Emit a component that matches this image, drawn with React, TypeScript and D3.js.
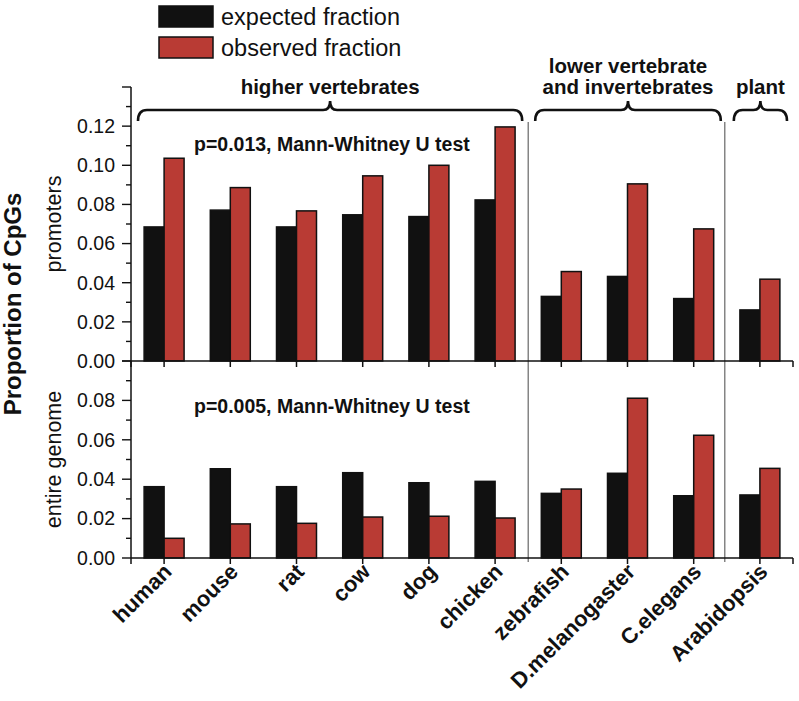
import React from "react";
import * as d3 from "d3";

const categories = ["human", "mouse", "rat", "cow", "dog", "chicken", "zebrafish", "D.melanogaster", "C.elegans", "Arabidopsis"];
const promotersExpected = [0.0685, 0.0771, 0.0685, 0.0747, 0.0738, 0.0823, 0.0330, 0.0432, 0.0319, 0.0261];
const promotersObserved = [0.1036, 0.0886, 0.0767, 0.0946, 0.1000, 0.1196, 0.0457, 0.0905, 0.0675, 0.0418];
const genomeExpected = [0.0362, 0.0453, 0.0362, 0.0433, 0.0382, 0.0389, 0.0328, 0.0430, 0.0316, 0.0320];
const genomeObserved = [0.0100, 0.0173, 0.0176, 0.0208, 0.0212, 0.0203, 0.0350, 0.0811, 0.0623, 0.0455];
const topTicks = [0, 0.02, 0.04, 0.06, 0.08, 0.1, 0.12];
const bottomTicks = [0, 0.02, 0.04, 0.06, 0.08];
const groups = [
  { lines: ["higher vertebrates"], first: 0, last: 5 },
  { lines: ["lower vertebrate", "and invertebrates"], first: 6, last: 8 },
  { lines: ["plant"], first: 9, last: 9 },
];
const seriesNames = ["expected fraction", "observed fraction"];
const pTexts = ["p=0.013, Mann-Whitney U test", "p=0.005, Mann-Whitney U test"];

const FONT = "'Liberation Sans', Arial, sans-serif";
const BLACK = "#111111";
const RED = "#b93b34";

export default function App() {
  const W = 799, H = 701;
  const x = d3.scaleBand<string>().domain(categories).range([131, 793]).padding(0);
  const bw = x.bandwidth();
  const barW = bw * 0.302;
  const yTop = d3.scaleLinear().domain([0, 0.14]).range([361, 87]);
  const yBot = d3.scaleLinear().domain([0, 0.1]).range([558, 361]);
  const cx = (c: string) => (x(c) as number) + bw / 2;

  const panels = [
    { y: yTop, exp: promotersExpected, obs: promotersObserved, ticks: topTicks, max: 0.14, label: "promoters", p: pTexts[0] },
    { y: yBot, exp: genomeExpected, obs: genomeObserved, ticks: bottomTicks, max: 0.1, label: "entire genome", p: pTexts[1] },
  ];

  const brace = (x0: number, x1: number, yb: number) => {
    const xm = (x0 + x1) / 2;
    return `M${x0},${yb + 11} Q${x0},${yb} ${x0 + 9},${yb} L${xm - 7},${yb} Q${xm},${yb} ${xm},${yb - 9} Q${xm},${yb} ${xm + 7},${yb} L${x1 - 9},${yb} Q${x1},${yb} ${x1},${yb + 11}`;
  };

  const sepXs = [x(categories[6]) as number, x(categories[9]) as number - 2];

  return (
    <svg width={W} height={H} style={{ position: "absolute", left: 0, top: 0, background: "#fff" }} fontFamily={FONT}>
      <rect x={0} y={0} width={W} height={H} fill="#fff" />
      {/* legend */}
      {seriesNames.map((s, i) => (
        <g key={s}>
          <rect x={159} y={6 + i * 31} width={54} height={21} fill={i === 0 ? BLACK : RED} stroke="#111" strokeWidth={1.5} />
          <text x={221} y={25 + i * 30.5} fontSize={23.5} fill="#111">{s}</text>
        </g>
      ))}
      {/* separators */}
      {sepXs.map((sx, i) => (
        <line key={i} x1={sx} x2={sx} y1={122} y2={562} stroke="#666" strokeWidth={1.2} />
      ))}
      {/* braces and group labels */}
      {groups.map((g) => {
        const x0 = (x(categories[g.first]) as number) + 7;
        const x1 = (x(categories[g.last]) as number) + bw - 6;
        const xm = (x0 + x1) / 2;
        return (
          <g key={g.lines.join()}>
            <path d={brace(x0, x1, 110)} fill="none" stroke="#111" strokeWidth={2.6} />
            {g.lines.map((l, j) => (
              <text key={l} x={xm} y={94 - (g.lines.length - 1 - j) * 21.5} textAnchor="middle" fontWeight="bold" fontSize={20.5} fill="#111">{l}</text>
            ))}
          </g>
        );
      })}
      {panels.map((p, pi) => (
        <g key={pi}>
          {categories.map((c, i) => (
            <g key={c}>
              <rect x={cx(c) - barW} y={p.y(p.exp[i])} width={barW} height={p.y(0) - p.y(p.exp[i])} fill={BLACK} stroke="#111" strokeWidth={1.5} />
              <rect x={cx(c)} y={p.y(p.obs[i])} width={barW} height={p.y(0) - p.y(p.obs[i])} fill={RED} stroke="#111" strokeWidth={1.5} />
            </g>
          ))}
          {/* x axis */}
          <line x1={131} x2={793} y1={p.y(0)} y2={p.y(0)} stroke="#111" strokeWidth={1.5} />
          {[...categories.map((c) => cx(c)), 131, 793].map((tx, k) => (
            <line key={k} x1={tx} x2={tx} y1={p.y(0)} y2={p.y(0) + 6} stroke="#111" strokeWidth={1.5} />
          ))}
          {/* y ticks */}
          {d3.range(0, Math.round(p.max / 0.01) + 1).map((k) => {
            const v = k * 0.01;
            const major = k % 2 === 0;
            return <line key={k} x1={131} x2={major ? 122 : 126} y1={p.y(v)} y2={p.y(v)} stroke="#111" strokeWidth={1.4} />;
          })}
          {p.ticks.map((t) => (
            <text key={t} x={115} y={p.y(t)} dy="0.35em" textAnchor="end" fontSize={19.5} fill="#111">{t.toFixed(2)}</text>
          ))}
          <text transform={`translate(61,${(p.y(0) + p.y(p.max)) / 2}) rotate(-90)`} textAnchor="middle" fontSize={21.5} fill="#111">{p.label}</text>
          <text x={194} y={pi === 0 ? 151 : 413} fontWeight="bold" fontSize={19.5} fill="#111">{p.p}</text>
        </g>
      ))}
      {/* y axis */}
      <line x1={131} x2={131} y1={87} y2={558} stroke="#111" strokeWidth={1.5} />
      <text transform="translate(21,304) rotate(-90)" textAnchor="middle" fontWeight="bold" fontSize={24} fill="#111">Proportion of CpGs</text>
      {/* x labels */}
      {categories.map((c) => (
        <text key={c} transform={`translate(${cx(c) + 9},573) rotate(-45)`} textAnchor="end" fontWeight="bold" fontSize={22} fill="#111">{c}</text>
      ))}
    </svg>
  );
}
